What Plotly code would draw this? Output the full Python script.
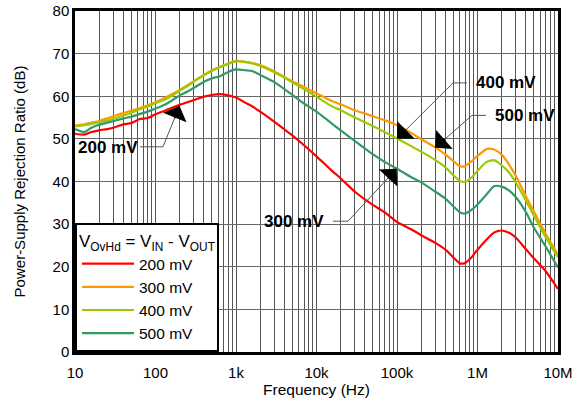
import numpy as np
import plotly.graph_objects as go

# ---------------- data ----------------
freq_hz = [10, 13, 16, 20, 25, 32, 40, 50, 63, 80, 100, 130, 160, 200, 250, 320, 400, 500, 630, 800,
           1e3, 1.3e3, 1.6e3, 2e3, 3e3, 5e3, 7e3, 1e4, 1.5e4, 2e4, 3e4, 5e4, 7e4, 1e5, 1.5e5, 2e5,
           3e5, 4e5, 5e5, 6e5, 7e5, 8.5e5, 1e6, 1.3e6, 1.6e6, 2e6, 2.5e6, 3e6, 4e6, 5e6, 7e6, 1e7]

psrr_200mv = [51.2, 51.0, 51.6, 52.0, 52.3, 52.8, 53.4, 53.7, 54.6, 54.9, 55.8, 56.6, 57.3, 58.0, 58.6,
              59.3, 59.9, 60.3, 60.5, 60.2, 59.7, 58.5, 57.6, 56.4, 54.0, 50.8, 48.5, 45.9, 42.8, 40.7,
              37.6, 34.5, 32.8, 30.5, 28.8, 27.4, 25.6, 24.0, 22.2, 20.8, 20.9, 22.3, 24.0, 26.4, 28.0,
              28.5, 27.9, 26.8, 24.1, 22.0, 19.0, 14.8]
psrr_300mv = [53.1, 53.4, 53.8, 54.2, 54.8, 55.5, 56.1, 56.6, 57.2, 57.9, 58.6, 59.6, 60.5, 61.5, 62.6,
              63.9, 65.0, 66.1, 66.9, 67.7, 68.3, 68.1, 67.8, 67.3, 65.8, 63.5, 62.2, 60.7, 59.0, 58.1,
              56.7, 55.3, 54.4, 53.2, 51.4, 49.9, 48.0, 46.3, 44.8, 43.6, 43.6, 44.8, 46.0, 47.6, 47.5,
              46.3, 43.8, 41.3, 36.5, 33.0, 27.8, 22.8]
psrr_400mv = [52.9, 53.2, 53.5, 53.9, 54.3, 54.9, 55.5, 56.1, 56.9, 57.6, 58.4, 59.2, 60.1, 61.3, 62.4,
              63.8, 64.9, 65.9, 66.8, 67.6, 68.2, 68.0, 67.7, 67.1, 65.6, 63.3, 61.7, 59.9, 57.8, 56.7,
              55.0, 53.0, 51.6, 50.1, 48.3, 47.0, 45.0, 43.3, 41.5, 40.2, 39.9, 41.0, 42.5, 44.6, 45.0,
              43.8, 42.0, 39.7, 35.5, 32.0, 27.0, 22.2]
psrr_500mv = [52.3, 51.6, 52.6, 53.3, 53.8, 54.3, 54.8, 55.2, 55.8, 56.4, 57.1, 58.0, 59.0, 60.2, 61.1,
              62.3, 63.4, 64.2, 64.7, 65.7, 66.3, 66.1, 65.9, 65.0, 63.3, 60.3, 58.3, 56.4, 53.8, 52.0,
              49.5, 46.4, 44.6, 43.0, 41.0, 39.8, 37.6, 36.0, 34.2, 32.8, 32.5, 33.4, 34.6, 37.0, 38.9,
              38.8, 37.8, 36.3, 32.8, 29.2, 24.8, 19.8]

series_names = ["200 mV", "300 mV", "400 mV", "500 mV"]
series_colors = ["#FF0000", "#FF9900", "#99CC00", "#339966"]
series_values = [psrr_200mv, psrr_300mv, psrr_400mv, psrr_500mv]

decade_text = ["10", "100", "1k", "10k", "100k", "1M", "10M"]

FONT = "Liberation Sans, Arial, sans-serif"

fig = go.Figure()
for name, color, vals in zip(series_names, series_colors, series_values):
    fig.add_trace(go.Scatter(x=freq_hz, y=vals, mode="lines", name=name,
                             line=dict(color=color, width=2.2, shape="spline", smoothing=0.6)))

# grid ticks: every 1..9 multiple per decade, labels only at decades
tickvals = []
ticktext = []
for d in range(1, 7):
    for m in range(1, 10):
        tickvals.append(m * 10 ** d)
        ticktext.append(decade_text[d - 1] if m == 1 else "")
tickvals.append(1e7)
ticktext.append("10M")

W, H = 581, 408
ML, MR, MT, MB = 75, 23, 11, 55.5
PW, PH = W - ML - MR, H - MT - MB

def px(xp):  # pixel -> paper
    return (xp - ML) / PW

def py(yp):
    return (H - MB - yp) / PH

callouts = [
    ("200 mV", (108, 147.5), [(140, 147), (163, 147), (179.5, 106)]),
    ("400 mV", (506, 83), [(467, 83), (453, 83), (397, 139)]),
    ("500 mV", (525, 115.5), [(486, 115.5), (472, 115.5), (435, 148)]),
    ("300 mV", (294, 221.5), [(333, 221.5), (348, 221.5), (396.7, 169)]),
]

shapes = []
annotations = []
for text, (tx, ty), pts in callouts:
    annotations.append(dict(xref="paper", yref="paper", x=px(tx), y=py(ty), text="<b>" + text + "</b>",
                            showarrow=False, font=dict(family=FONT, size=17, color="black"),
                            xanchor="center", yanchor="middle"))
    for (x0, y0), (x1, y1) in zip(pts[:-1], pts[1:]):
        shapes.append(dict(type="line", xref="paper", yref="paper", x0=px(x0), y0=py(y0),
                           x1=px(x1), y1=py(y1), line=dict(color="#555555", width=1)))
    (bx, by), (tipx, tipy) = pts[-2], pts[-1]
    dx, dy = bx - tipx, by - tipy
    L = (dx * dx + dy * dy) ** 0.5
    annotations.append(dict(xref="paper", yref="paper", x=px(tipx), y=py(tipy), text="",
                            showarrow=True, ax=dx / L * 15, ay=dy / L * 15, axref="pixel", ayref="pixel",
                            arrowhead=1, arrowsize=3.0, arrowwidth=1.4, arrowcolor="black", standoff=0))

fig.update_layout(
    width=W, height=H,
    margin=dict(l=ML, r=MR, t=MT, b=MB, pad=0, autoexpand=False),
    paper_bgcolor="white", plot_bgcolor="white",
    font=dict(family=FONT, size=15, color="black"),
    showlegend=True,
    legend=dict(x=0, y=0, xanchor="left", yanchor="bottom", bgcolor="white",
                bordercolor="black", borderwidth=2,
                title=dict(text="V<sub>OvHd</sub> = V<sub>IN</sub> - V<sub>OUT</sub>",
                           font=dict(family=FONT, size=17), side="top"),
                font=dict(family=FONT, size=15.5), itemwidth=52, tracegroupgap=0),
    shapes=shapes,
    annotations=annotations,
)
fig.update_xaxes(type="log", range=[1, 7], tickvals=tickvals, ticktext=ticktext,
                 showgrid=True, gridcolor="#555555", gridwidth=1, ticks="",
                 showline=True, linecolor="black", linewidth=2.5, mirror=True,
                 tickfont=dict(family=FONT, size=15), ticklabelstandoff=5, automargin=False,
                 ticklabeloverflow="allow",
                 title=dict(text="Frequency (Hz)", font=dict(family=FONT, size=15.5), standoff=4),
                 zeroline=False)
fig.update_yaxes(range=[0, 80], dtick=10, showgrid=True, gridcolor="#666666", gridwidth=1, ticks="",
                 showline=True, linecolor="black", linewidth=2.5, mirror=True,
                 tickfont=dict(family=FONT, size=15), automargin=False, ticklabeloverflow="allow",
                 title=dict(text="Power-Supply Rejection Ratio (dB)", font=dict(family=FONT, size=15), standoff=24),
                 zeroline=False)

# remove the browser's default 8px body margin so the figure fills the window
fig.write_html("out.html", config={"displayModeBar": False},
               post_script="document.body.style.margin='0';")
